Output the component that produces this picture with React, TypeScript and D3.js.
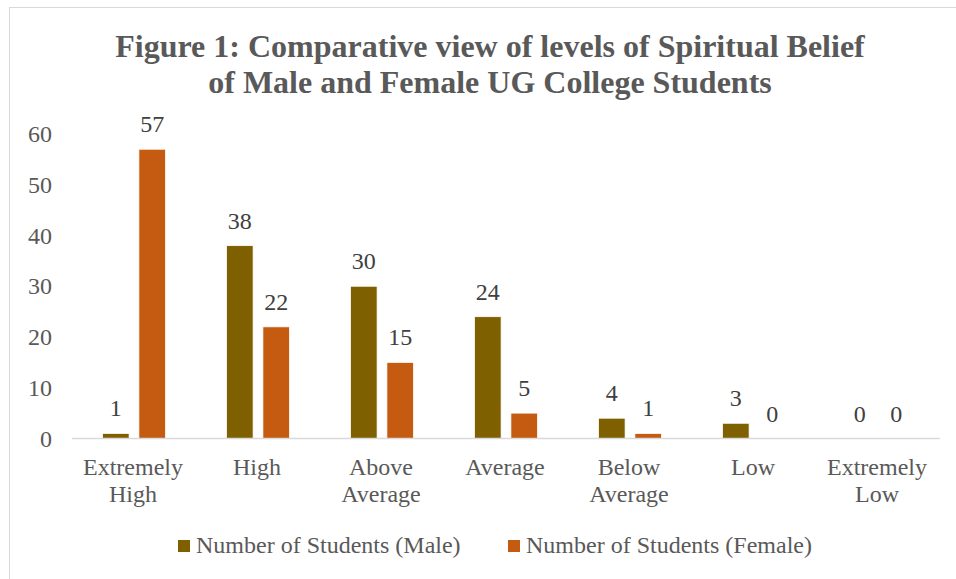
import React from "react";
import * as d3 from "d3";

const categories: string[][] = [
  ["Extremely", "High"],
  ["High"],
  ["Above", "Average"],
  ["Average"],
  ["Below", "Average"],
  ["Low"],
  ["Extremely", "Low"],
];
const categoryKeys = categories.map((c) => c.join(" "));
const seriesNames = ["Number of Students (Male)", "Number of Students (Female)"];
const maleValues = [1, 38, 30, 24, 4, 3, 0];
const femaleValues = [57, 22, 15, 5, 1, 0, 0];
const seriesColors = ["#7F6000", "#C55A11"];
const yTicks = [0, 10, 20, 30, 40, 50, 60];
const titleLines = [
  "Figure 1: Comparative view of levels of Spiritual Belief",
  "of Male and Female UG College Students",
];

const W = 956;
const H = 579;
const FONT = "'Liberation Serif', 'Times New Roman', serif";
const TEXT = "#595959";
const FS = 24;

export default function App() {
  const x0 = d3.scaleBand<string>().domain(categoryKeys).range([72, 940]).padding(0);
  const x1 = d3
    .scaleBand<string>()
    .domain(seriesNames)
    .range([0, x0.bandwidth()])
    .paddingInner(0.27)
    .paddingOuter(0.84);
  const y = d3.scaleLinear().domain([0, 60]).range([438.5, 134]);
  const series = [maleValues, femaleValues];

  return (
    <svg
      width={W}
      height={H}
      style={{ position: "absolute", left: 0, top: 0, background: "#fff" }}
    >
      <rect x={9.5} y={7.5} width={W + 10} height={H + 10} fill="#fff" stroke="#d9d9d9" strokeWidth={1} />
      {titleLines.map((t, i) => (
        <text
          key={i}
          x={490}
          y={57 + i * 36}
          textAnchor="middle"
          fontFamily={FONT}
          fontWeight="bold"
          fontSize={32}
          fill={TEXT}
        >
          {t}
        </text>
      ))}
      {yTicks.map((v) => (
        <text
          key={v}
          x={52}
          y={y(v) + 8}
          textAnchor="end"
          fontFamily={FONT}
          fontSize={FS}
          fill={TEXT}
        >
          {v}
        </text>
      ))}
      {series.map((vals, si) =>
        vals.map((v, ci) => {
          const bx = (x0(categoryKeys[ci]) ?? 0) + (x1(seriesNames[si]) ?? 0);
          const bw = x1.bandwidth();
          return (
            <g key={`${si}-${ci}`}>
              {v > 0 && (
                <rect
                  x={bx}
                  y={y(v)}
                  width={bw}
                  height={y(0) - y(v)}
                  fill={seriesColors[si]}
                  stroke="#fff"
                  strokeWidth={0.75}
                />
              )}
              <text
                x={bx + bw / 2}
                y={y(v) - 17}
                textAnchor="middle"
                fontFamily={FONT}
                fontSize={FS}
                fill="#404040"
              >
                {v}
              </text>
            </g>
          );
        })
      )}
      <line x1={72} x2={940} y1={y(0)} y2={y(0)} stroke="#d9d9d9" strokeWidth={1.5} />
      {categories.map((lines, ci) => {
        const cx = (x0(categoryKeys[ci]) ?? 0) + x0.bandwidth() / 2 - 1;
        return (
          <text key={ci} textAnchor="middle" fontFamily={FONT} fontSize={FS} fill={TEXT}>
            {lines.map((l, li) => (
              <tspan key={li} x={cx} y={475 + li * 27}>
                {l}
              </tspan>
            ))}
          </text>
        );
      })}
      {seriesNames.map((n, i) => {
        const lx = i === 0 ? 178 : 508;
        return (
          <g key={n}>
            <rect x={lx} y={540} width={12} height={12} fill={seriesColors[i]} />
            <text x={lx + 18} y={553} fontFamily={FONT} fontSize={FS} fill={TEXT}>
              {n}
            </text>
          </g>
        );
      })}
    </svg>
  );
}
